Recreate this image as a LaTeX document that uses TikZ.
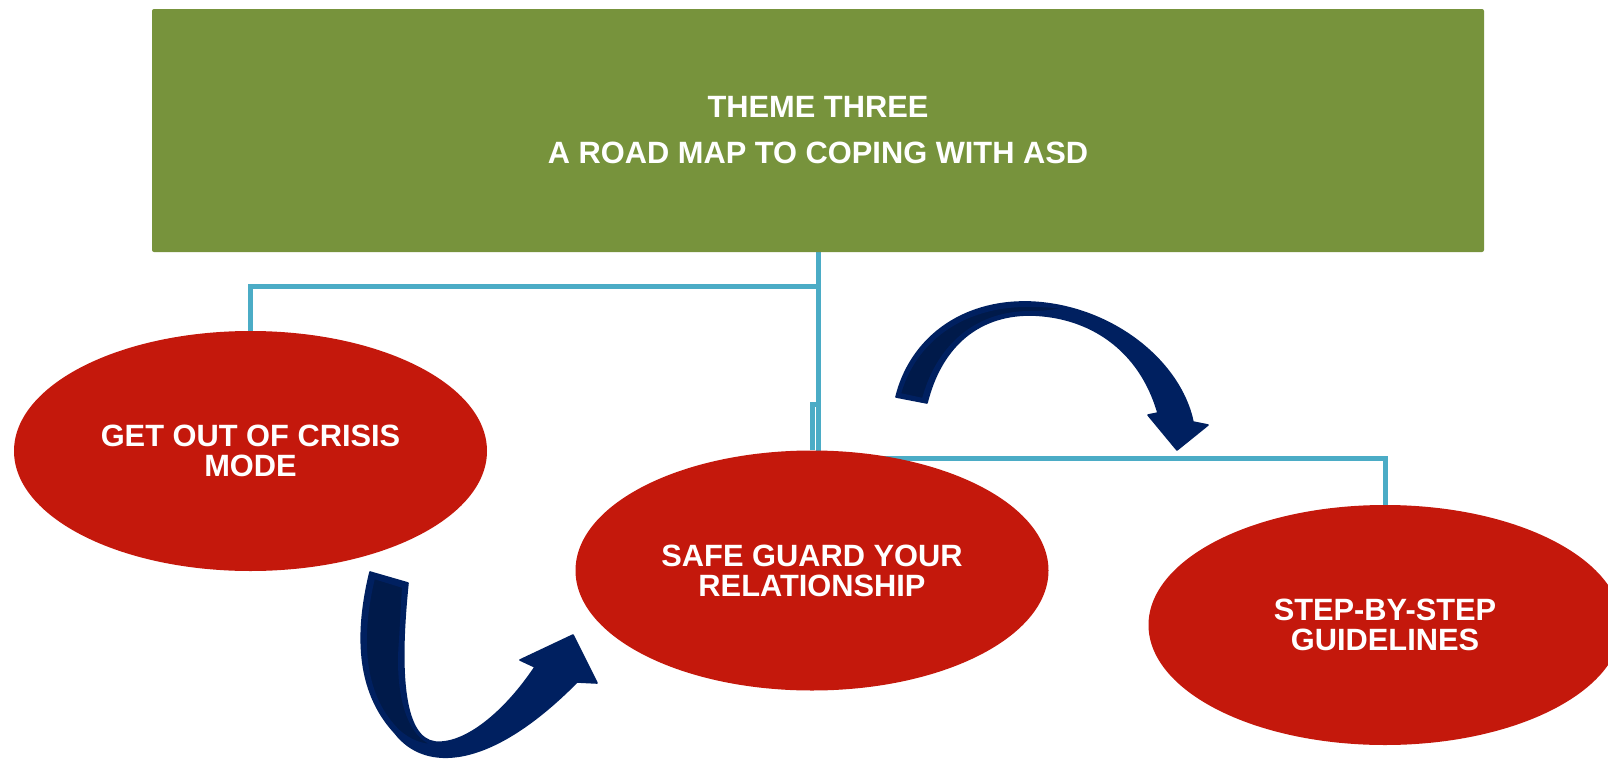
\documentclass[tikz,border=0pt]{standalone}
\usepackage{fontspec}
\setmainfont{Liberation Sans}
\usepackage{tikz}
\usetikzlibrary{shapes.geometric, positioning, backgrounds}
\usepackage{xcolor}
\definecolor{themegreen}{RGB}{119,147,60}
\definecolor{crisisred}{RGB}{196,24,12}
\definecolor{linkblue}{RGB}{75,172,198}
\definecolor{arrownavy}{RGB}{0,32,96}
\definecolor{arrowshade}{RGB}{0,26,74}

\begin{document}
\begin{tikzpicture}[
    x=0.5pt, y=-0.5pt,
    box/.style={rectangle, fill=themegreen, text=white, inner sep=0pt,
                minimum width=666pt, minimum height=121.5pt, align=center,
                rounded corners=1pt,
                font=\fontsize{15.4}{23}\selectfont\bfseries},
    bubble/.style={ellipse, fill=crisisred, text=white, inner sep=0pt,
                minimum width=236.5pt, minimum height=120pt, align=center,
                font=\fontsize{15.4}{15}\selectfont\bfseries},
    link/.style={draw=linkblue, line width=2.5pt},
    swoop/.style={fill=arrownavy, draw=arrownavy, line width=0.8pt, line join=round},
    swoopshade/.style={fill=arrowshade, draw=arrownavy, line width=1pt, line join=round}
]
\useasboundingbox (0,0) rectangle (1608,760);
\clip (0,0) rectangle (1608,760);

\node[box] (theme) at (818,130.5) {THEME THREE\\A ROAD MAP TO COPING WITH ASD};
\node[bubble] (crisis) at (250.5,451) {GET OUT OF CRISIS\\MODE};
\node[bubble] (guard) at (812,570.5) {SAFE GUARD YOUR\\RELATIONSHIP};
\node[bubble] (steps) at (1385,625) {STEP-BY-STEP\\GUIDELINES};

\coordinate (fork) at (818,286);
\coordinate (drop) at (812,404);
\coordinate (rail) at (818,458);
\begin{scope}[on background layer]
\draw[link] (theme.south) -- (rail) -| (steps.north);
\draw[link] (fork) -| (crisis.north);
\draw[link] (fork |- drop) -- (drop) -- (guard.north);
\end{scope}

% lower arrow, crisis -> guard
\draw[swoop] (370,572) .. controls (356,630) and (355,690) .. (395,733)
    .. controls (425,772) and (490,770) .. (577,682)
    -- (597,683) -- (573,635) -- (520,660) -- (535,667)
    .. controls (505,712) and (465,745) .. (435,742)
    .. controls (405,738) and (398,680) .. (408,583) -- cycle;
\draw[swoopshade] (374,578) .. controls (361,632) and (360,692) .. (398,730)
    .. controls (410,741) and (422,745) .. (434,745)
    .. controls (404,735) and (396,685) .. (400,640) -- (403,587) -- cycle;

% upper arrow, guard -> steps
\draw[swoop] (896,397) .. controls (910,340) and (960,300) .. (1030,302)
    .. controls (1110,305) and (1180,360) .. (1193,422)
    -- (1208,425) -- (1177,450) -- (1148,415) -- (1158,413)
    .. controls (1140,350) and (1090,316) .. (1030,315)
    .. controls (975,315) and (940,350) .. (927,403) -- cycle;
\draw[swoopshade] (900,394) .. controls (914,343) and (961,305) .. (1030,306)
    .. controls (1045,306) and (1057,307) .. (1066,308)
    .. controls (1054,311) and (1043,312) .. (1030,312)
    .. controls (972,312) and (936,350) .. (923,399) -- cycle;
\end{tikzpicture}
\end{document}
